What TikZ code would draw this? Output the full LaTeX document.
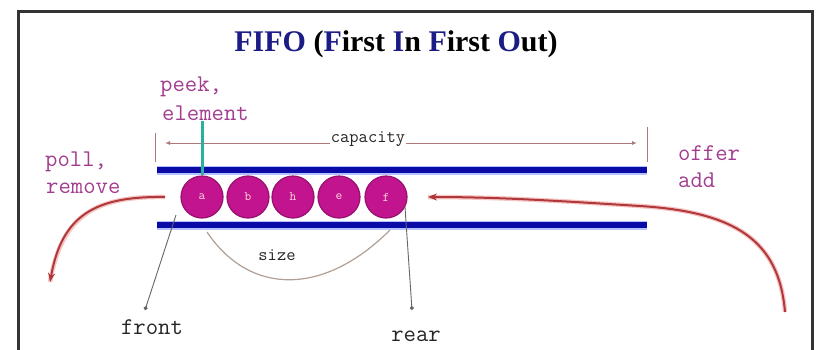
\documentclass[tikz,border=0pt]{standalone}
\usepackage{fontspec}
\setmainfont{Liberation Serif}
\setmonofont{Latin Modern Mono}
\usetikzlibrary{arrows.meta}
\definecolor{navy}{HTML}{1C1C86}
\definecolor{barblue}{HTML}{0A0AA6}
\definecolor{barglow}{HTML}{B4C2FF}
\definecolor{ballmag}{HTML}{C2148E}
\definecolor{balledge}{HTML}{96106E}
\definecolor{labpurple}{HTML}{A23D8F}
\definecolor{tealc}{HTML}{2BB0A0}
\definecolor{arrred}{HTML}{B0383A}
\definecolor{arrglow}{HTML}{F6C4C4}
\definecolor{dimc}{HTML}{B07878}
\definecolor{sizec}{HTML}{B0A096}
\begin{document}
\begin{tikzpicture}[x=1pt,y=-1pt,
  lab/.style={font=\ttfamily\fontsize{24}{26}\selectfont, text=labpurple, inner sep=0pt, anchor=west},
  blab/.style={font=\ttfamily\fontsize{24}{26}\selectfont, text=black!85, inner sep=0pt},
  small/.style={font=\ttfamily\bfseries\fontsize{18}{20}\selectfont, text=black!85, inner sep=1pt},
  ball/.style={circle, minimum size=42pt, inner sep=0pt, fill=ballmag, draw=balledge, line width=1.2pt,
    font=\ttfamily\fontsize{13}{13}\selectfont, text=pink!60},
  bar/.style={line width=6.5pt, draw=barblue},
  glowbar/.style={line width=9pt, draw=barglow},
  redarr/.style={draw=arrred, line width=2pt, -{Stealth[length=9pt,width=7pt]}},
  redglow/.style={draw=arrglow, line width=4.5pt},
  pointer/.style={draw=black!60, line width=0.9pt, -{Circle[length=4pt]}}
]
\clip (0,0) rectangle (817,349);
\fill[white] (0,0) rectangle (817,349);
% frame
\draw[line width=3pt, black!80] (18,380) -- (18,11) -- (812,11) -- (812,380);
% title
\node[font=\bfseries\fontsize{30}{34}\selectfont, inner sep=0pt] (title) at (396,44)
  {\textcolor{navy}{FIFO} (\textcolor{navy}{F}irst \textcolor{navy}{I}n \textcolor{navy}{F}irst \textcolor{navy}{O}ut)};
% labels
\node[lab] (peek) at (160,87) {peek,};
\node[lab] (elem) at (162,113) {element};
\node[lab] (poll) at (45,162) {poll,};
\node[lab] (remove) at (46,188) {remove};
\node[lab] (offer) at (678,153) {offer};
\node[lab] (add) at (678,180) {add};
% bars
\coordinate (tl) at (157,170); \coordinate (tr) at (647,170);
\coordinate (bl) at (157,225); \coordinate (br) at (647,225);
\draw[glowbar] (tl) -- (tr);
\draw[glowbar] (bl) -- (br);
\draw[bar] (tl) -- (tr);
\draw[bar] (bl) -- (br);
% capacity dimension
\coordinate (capl) at (165,143); \coordinate (capr) at (637,143);
\draw[dimc, line width=0.7pt] (155,133) -- (155,162);
\draw[dimc, line width=0.7pt] (647,127) -- (647,162);
\draw[dimc, line width=1pt, {Latex[length=5pt,width=4pt]}-{Latex[length=5pt,width=4pt]}] (capl) -- (capr);
\node[small, fill=white] (cap) at (368,139) {capacity};
% balls
\node[ball] (c1) at (202,197) {a};
\node[ball] (c2) at (248,197) {b};
\node[ball] (c3) at (293,197) {h};
\node[ball] (c4) at (339,197) {e};
\node[ball] (c5) at (386,197) {f};
% peek connector
\draw[tealc, line width=3pt] (c1.north) -- (c1.north |- elem.south);
% size curve
\coordinate (s1) at (207,232); \coordinate (s2) at (390,230);
\draw[sizec, line width=1.2pt] (s1) .. controls (250,296) and (324,296) .. (s2);
\node[small] (size) at (277,255) {size};
% front / rear
\coordinate (fa) at (176,215); \coordinate (fb) at (145,310);
\draw[pointer] (fa) -- (fb);
\node[blab] (front) at (152,327) {front};
\coordinate (ra) at (405,207); \coordinate (rb) at (412,310);
\draw[pointer] (ra) -- (rb);
\node[blab] (rear) at (416,336) {rear};
% poll arrow
\coordinate (p0) at (165,197); \coordinate (p1) at (50,282);
\draw[redglow] (p0) .. controls (95,196) and (62,215) .. (p1);
\draw[redarr] (p0) .. controls (95,196) and (62,215) .. (p1);
% offer arrow
\coordinate (o0) at (785,312); \coordinate (om) at (640,206); \coordinate (o1) at (428,197);
\draw[redglow] (o0) .. controls (779,240) and (735,212) .. (om) .. controls (560,201) and (500,197) .. (o1);
\draw[redarr] (o0) .. controls (779,240) and (735,212) .. (om) .. controls (560,201) and (500,197) .. (o1);
\end{tikzpicture}
\end{document}
